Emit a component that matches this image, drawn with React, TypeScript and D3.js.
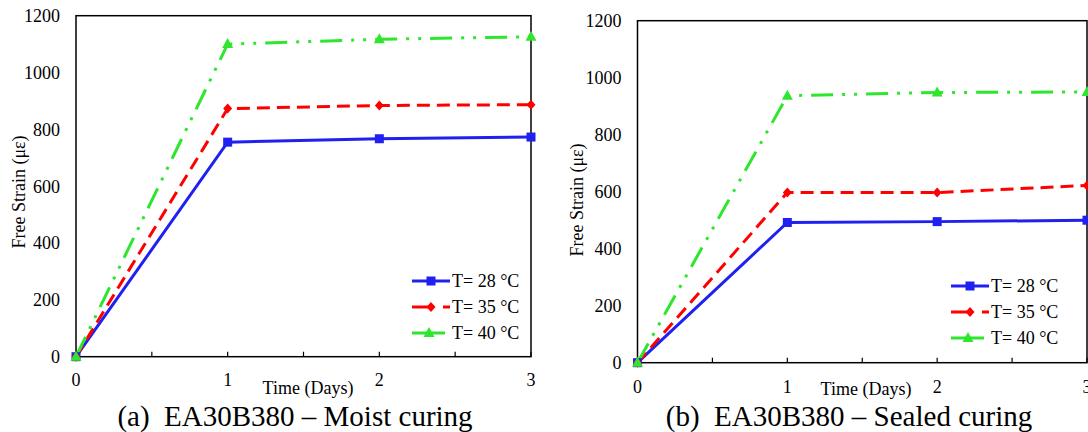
import React from "react";
import * as d3 from "d3";

const days = [0, 1, 2, 3];
const xTicks = [0, 1, 2, 3];
const minorTicks = [0.5, 1.5, 2.5];
const yTicks = [0, 200, 400, 600, 800, 1000, 1200];

const seriesNames = ["T= 28 °C", "T= 35 °C", "T= 40 °C"];

// (a) moist curing
const moist28 = [0, 755, 767, 773];
const moist35 = [0, 873, 884, 887];
const moist40 = [0, 1100, 1117, 1126];

// (b) sealed curing
const sealed28 = [0, 492, 495, 500];
const sealed35 = [0, 597, 597, 622];
const sealed40 = [0, 937, 948, 950];

const styles = [
  { color: "#2020F0", dash: null, marker: "square" },
  { color: "#FF0000", dash: "13,7", marker: "diamond" },
  { color: "#2EE62E", dash: "22,9,3,9,3,9", marker: "triangle" },
];

const serif = "'Liberation Serif', 'Times New Roman', serif";

function Marker({ type, x, y, color }) {
  if (type === "square") return <rect x={x - 4.5} y={y - 4.5} width={9} height={9} fill={color} />;
  if (type === "diamond")
    return <path d={`M${x},${y - 5}L${x + 4.5},${y}L${x},${y + 5}L${x - 4.5},${y}Z`} fill={color} />;
  return <path d={`M${x},${y - 6}L${x + 5.5},${y + 4}L${x - 5.5},${y + 4}Z`} fill={color} />;
}

function Panel({ box, data, legend, caption, xTitle, yTitle, tickLabelY }) {
  const x = d3.scaleLinear().domain([0, 3]).range([box.x0, box.x1]);
  const y = d3.scaleLinear().domain([0, 1200]).range([box.y1, box.y0]);
  const line = d3.line().x((d, i) => x(days[i])).y((d) => y(d));

  return (
    <g>
      <rect x={box.x0} y={box.y0} width={box.x1 - box.x0} height={box.y1 - box.y0} fill="white" stroke="black" strokeWidth={1.5} />
      {xTicks.concat(minorTicks).map((t) => (
        <line key={t} x1={x(t)} x2={x(t)} y1={box.y1} y2={box.y1 - 5} stroke="black" strokeWidth={1.2} />
      ))}
      {yTicks.map((t) => (
        <text key={t} x={box.x0 - 16} y={y(t)} dy="0.35em" textAnchor="end" fontSize={18} fontFamily={serif}>
          {t}
        </text>
      ))}
      {xTicks.map((t) => (
        <text key={t} x={x(t)} y={tickLabelY} dy="0.35em" textAnchor="middle" fontSize={18} fontFamily={serif}>
          {t}
        </text>
      ))}
      {data.map((vals, i) => (
        <path
          key={"l" + i}
          d={line(vals)}
          fill="none"
          stroke={styles[i].color}
          strokeWidth={3}
          strokeDasharray={styles[i].dash || undefined}
        />
      ))}
      {data.map((vals, i) =>
        vals.map((v, j) => (
          <Marker key={`m${i}-${j}`} type={styles[i].marker} x={x(days[j])} y={y(v)} color={styles[i].color} />
        ))
      )}
      {seriesNames.map((name, i) => {
        const ly = legend.y + i * 26;
        const s = styles[i];
        const mid = (legend.x0 + legend.x1) / 2;
        return (
          <g key={name}>
            {i === 0 && <line x1={legend.x0} x2={legend.x1} y1={ly} y2={ly} stroke={s.color} strokeWidth={3} />}
            {i === 1 && (
              <g>
                <line x1={legend.x0} x2={mid + 3} y1={ly} y2={ly} stroke={s.color} strokeWidth={3} />
                <line x1={legend.x1 - 7} x2={legend.x1} y1={ly} y2={ly} stroke={s.color} strokeWidth={3} />
              </g>
            )}
            {i === 2 && <line x1={legend.x0} x2={legend.x1 - 5} y1={ly} y2={ly} stroke={s.color} strokeWidth={3} />}
            <Marker type={s.marker} x={i === 2 ? mid - 2 : mid} y={ly} color={s.color} />
            <text x={legend.x1 + 2} y={ly} dy="0.35em" fontSize={18} fontFamily={serif} style={{ whiteSpace: "pre" }}>
              {name}
            </text>
          </g>
        );
      })}
      <text x={xTitle.x} y={xTitle.y} dy="0.35em" textAnchor="middle" fontSize={18} fontFamily={serif}>
        Time (Days)
      </text>
      <text
        transform={`translate(${yTitle.x},${yTitle.y}) rotate(-90)`}
        dy="0.35em"
        textAnchor="middle"
        fontSize={18}
        fontFamily={serif}
      >
        Free Strain (με)
      </text>
      <text x={caption.x} y={caption.y} textAnchor="middle" fontSize={29} fontFamily={serif} style={{ whiteSpace: "pre" }}>
        {caption.text}
      </text>
    </g>
  );
}

export default function App() {
  return (
    <svg width={1088} height={432} style={{ position: "absolute", left: 0, top: 0, background: "white" }}>
      <Panel
        box={{ x0: 76, x1: 531, y0: 15.7, y1: 356.7 }}
        data={[moist28, moist35, moist40]}
        legend={{ x0: 412, x1: 450, y: 281 }}
        caption={{ x: 295, y: 426, text: "(a)  EA30B380 – Moist curing" }}
        xTitle={{ x: 308, y: 388 }}
        yTitle={{ x: 19, y: 192 }}
        tickLabelY={380}
      />
      <Panel
        box={{ x0: 637.5, x1: 1087, y0: 20.7, y1: 362.7 }}
        data={[sealed28, sealed35, sealed40]}
        legend={{ x0: 951, x1: 989, y: 286 }}
        caption={{ x: 849, y: 426, text: "(b)  EA30B380 – Sealed curing" }}
        xTitle={{ x: 866, y: 389 }}
        yTitle={{ x: 577, y: 200 }}
        tickLabelY={387}
      />
    </svg>
  );
}
